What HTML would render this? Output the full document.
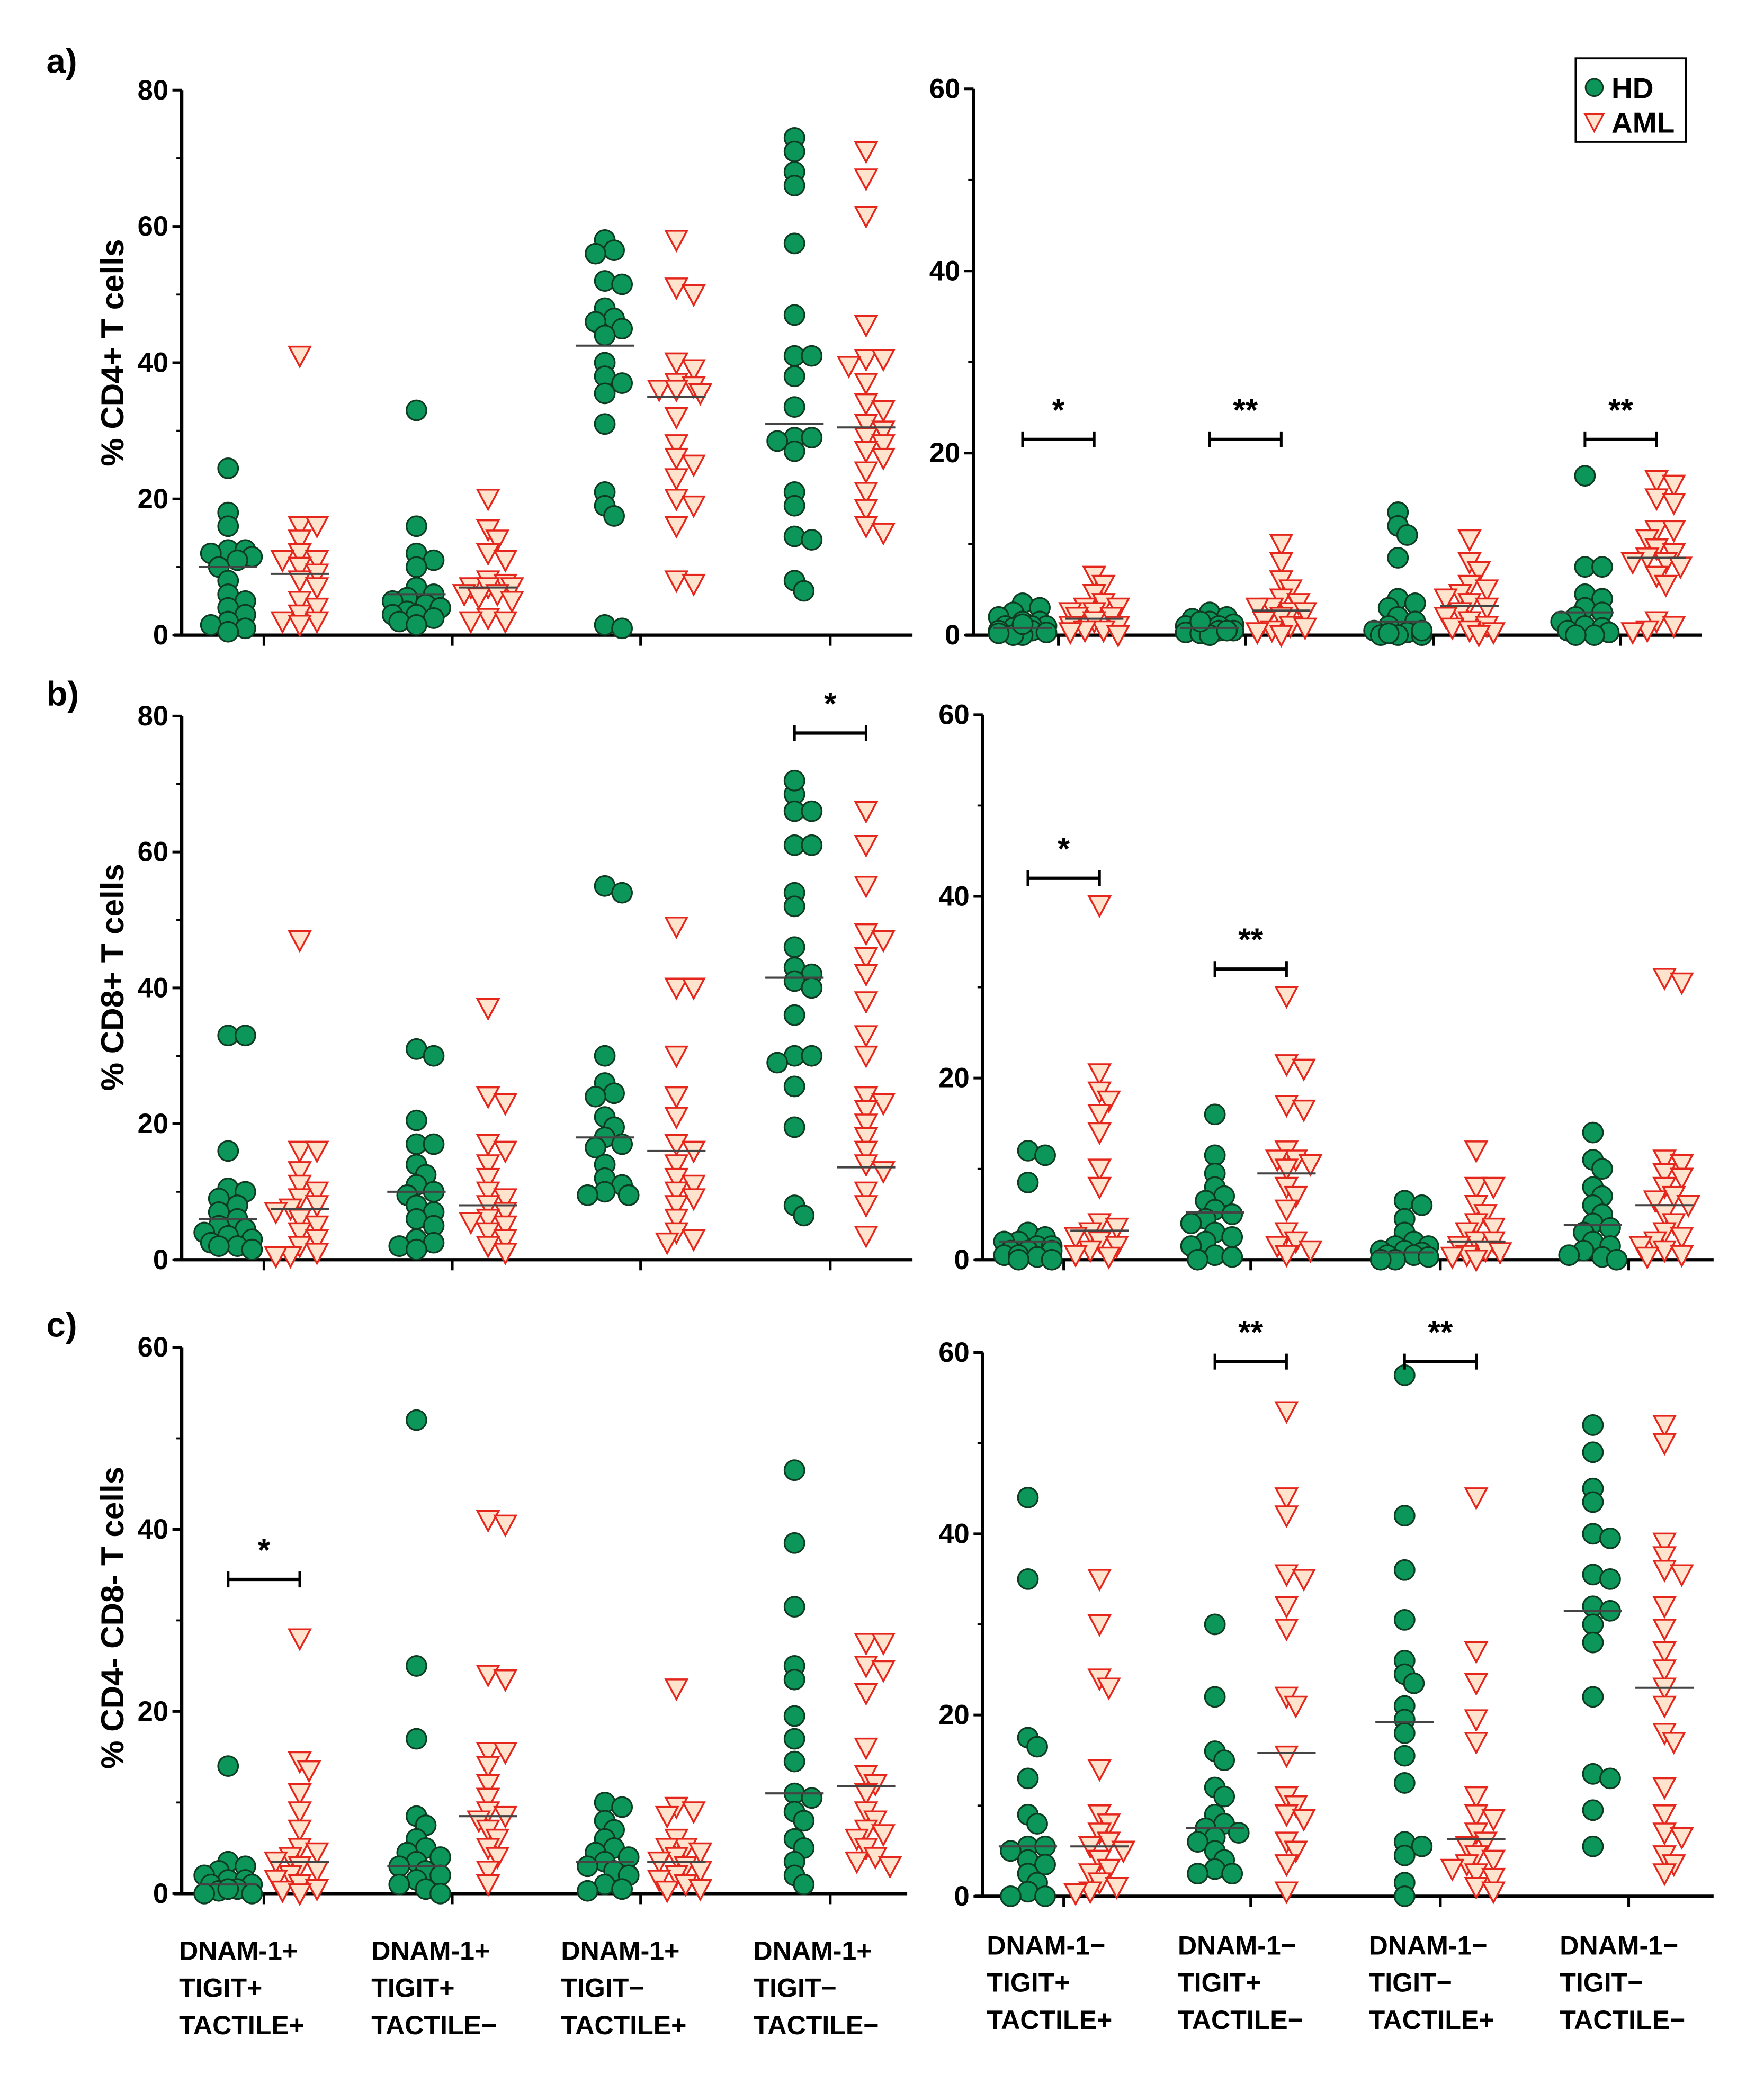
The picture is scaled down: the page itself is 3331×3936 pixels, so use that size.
<!DOCTYPE html>
<html><head><meta charset="utf-8">
<style>
html,body{margin:0;padding:0;background:#fff;}
svg{display:block;}
text{font-family:"Liberation Sans",sans-serif;font-weight:bold;}
</style></head>
<body>
<svg id="fig" xmlns="http://www.w3.org/2000/svg" width="3331" height="3936" viewBox="0 0 1330 1571.6" preserveAspectRatio="none">
<g id="root"></g>
</svg>
<script>
// ---------- DATA ----------
const groupLabels = ["DNAM-1+|TIGIT+|TACTILE+","DNAM-1+|TIGIT+|TACTILE\u2212","DNAM-1+|TIGIT\u2212|TACTILE+","DNAM-1+|TIGIT\u2212|TACTILE\u2212",
 "DNAM-1\u2212|TIGIT+|TACTILE+","DNAM-1\u2212|TIGIT+|TACTILE\u2212","DNAM-1\u2212|TIGIT\u2212|TACTILE+","DNAM-1\u2212|TIGIT\u2212|TACTILE\u2212"];
const yTicksLeftA = [0,20,40,60,80];
const yTicks60 = [0,20,40,60];

const aL_HD = [[24.5,18,16,12.5,12.5,12,11.5,11,10,8,6,5,4,3,2,1.5,1,0.5],[33,16,12,11,10,7,6,5.5,5,4.5,4,3.5,3,3,2.5,2,1.5],[58,56.5,56,52,51.5,48,46.5,46,45,44,40,38,37,35.5,31,21,19,17.5,1.5,1],[73,71,68,66,57.5,47,41,41,38,33.5,29,29,28.5,27,21,19,14.5,14,8,6.5]];
const aL_AML = [[41,16,16,14,12,11,11,10,9,8,7,5,4,3,2,2,1.5],[20,15.5,14,12,11,8,7.5,7,7,7,6,6,5.5,5,2.5,2,2],[58,51,50,40,39,37,36.5,36,36,35.5,32,28,26,25,23,20,19,16,8,7.5],[71,67,61.5,45.5,40.5,40.5,39.5,37,34,33,31,30,29,28,27,26,24,21,18.5,16,15]];
const aL_HDmed = [10,6,42.5,31];
const aL_AMLmed = [9,7,35,30.5];

const aR_HD = [[3.5,3,2.5,2,1.5,1.5,1,1,1,0.8,0.5,0.5,0.3,0,0,0.2,1.2],[2.5,2,1.8,1.5,1.2,1,1,0.8,0.5,0.5,0.3,0.2,0,0.5,1.5],[13.5,12,11,8.5,4,3.5,3,2,1.5,1,0.5,0.3,0,0,0,0.5,0.2],[17.5,7.5,7.5,4.5,4,3,2.5,2,1.5,1,0.8,0.5,0.3,0,0]];
const aR_AML = [[6.5,5.5,4.5,3.5,3,3,2.5,2.5,2,2,1.5,1,1,0.5,0.5,0,0.3],[10,8,6,5,4,3.5,3,3,2.5,2.5,2,1.5,1,0.8,0.5,0.3,0],[10.5,8,7,5.5,5,4.5,4,3.5,3,2.5,2,1.5,1,0.8,0.5,0.3,0],[17,16.5,15,14.5,11.5,11.5,10.5,9.5,9,8.5,8,8,7.5,6.5,5.5,1.5,1,0.5,0.3]];
const aR_HDmed = [0.8,0.8,1.5,2.5];
const aR_AMLmed = [1.8,2.7,3.2,8.5];

const bL_HD = [[33,33,16,10.5,10,9,8,7,6,5,4.5,4,3.5,3,2.5,2,2,1.5],[31,30,20.5,17,17,14,12.5,11,10,9.5,8,7,6,5,3,2.5,2,1.5],[55,54,30,26,24.5,24,21,19.5,18,17,16.5,14,12,11,10,9.5,9.5],[68.5,70.5,66,66,61,61,54,52,46,43,42,41,40,36,30,30,29,25.5,19.5,8,6.5]];
const bL_AML = [[47,16,16,13,11,10,9,8,7.5,7,6,5,4,3,2,1,0.5,0.5],[37,24,23,17,16,14,12,10,9,8,7,6,5.5,5,4,3,2,1],[49,40,40,30,24,21,17,16,14,12,11,10,9,8,6,4,3,2.5],[66,61,55,48,47,44.5,42,38,33,30,24,23,22,20,18,16,14,13,10,8,3.5]];
const bL_HDmed = [6,10,18,41.5];
const bL_AMLmed = [7.5,8,16,13.6];

const bR_HD = [[12,11.5,8.5,3,2.5,2,2,1.5,1.5,1,1,1,0.5,0.5,0.3,0,0],[16,11.5,9.5,8,7,6.5,5.5,5,4.5,4,3,2.5,2,1.5,0.5,0.3,0],[6.5,6,4.5,3,2,1.5,1.5,1,1,0.8,0.5,0.5,0.3,0,0],[14,11,10,8,7,6,5,4,3.5,3,2,1.5,1,0.5,0.3,0]];
const bR_AML = [[39,20.5,18.5,17.5,16,14,10,8,4,3.5,3,2.5,2,1.5,1,0.5,0.3],[29,21.5,21,17,16.5,12,11,11,10.5,10,8,7,5.5,3,2,1.5,1,0.5],[12,8,8,6,5,4,3.5,3,2,2,1.5,1,0.8,0.5,0.3,0],[31,30.5,11,10.5,9.5,9,8,7,6.5,6,5,4,3,2.5,2,1.5,1,0.5,0.3]];
const bR_HDmed = [2,5.2,0.8,3.8];
const bR_AMLmed = [3.2,9.5,2,6];

const cL_HD = [[14,3.5,3,2.5,2,1.5,1.5,1,1,0.5,0.3,0,0,0.5],[52,25,17,8.5,7.5,6,5,4.5,4,3.5,3,2.5,2,1.5,1,0.5,0],[10,9.5,8,7,6,5,4.5,4,3.5,3,2.5,2,1,0.5,0.3],[46.5,38.5,31.5,25,23.5,19.5,17,14.5,11,10.5,9,8,6,5,3.5,2,1]];
const cL_AML = [[28,14.5,13.5,11,9,7,5,4.5,4,3.5,3,2.5,2,1.5,1,0.5,0.3,0],[41,40.5,24,23.5,15.5,15.5,14,12,10.5,9,8.5,8,7,6,5,4,2.5,1],[22.5,9.5,9,8.5,6,5,5,4.5,4,3.5,3,2.5,2,1.5,1,0.5,0.3],[27.5,27.5,25,24.5,22,16,13,12,11,9,8,7,6.5,6,5,4,3.5,3]];
const cL_HDmed = [1,3,3.5,11];
const cL_AMLmed = [3.5,8.5,3.5,11.8];

const cR_HD = [[44,35,17.5,16.5,13,9,8,5.5,5.5,5,4,3.5,2.5,1.5,0.5,0,0],[30,22,16,15,12,11,9,8,7.5,7,6.5,6,5,4,3,2.5,2.5],[57.5,42,36,30.5,26,24.5,23.5,21,19.5,18,15.5,12.5,6,5.5,4.5,1.5,0],[52,49,45,43.5,40,39.5,35.5,35,32,31.5,30,28,22,13.5,13,9.5,5.5]];
const cR_AML = [[35,30,24,23,14,9,8,7,6,5.5,5,4,3,2.5,1.5,1,0.5,0.3],[53.5,44,42,35.5,35,32,29.5,22,21,15.5,11,10,9,8.5,6,5,3.5,0.5],[44,27,23.5,19.5,17,11,9,8.5,7,6,5.5,4.5,4,3.5,3,2.5,2,1,0.5],[52,50,39,37.5,36,35.5,32,29.5,27,25,23,21,18,17,12,9,7,6.5,4.5,3.5,2.5]];
const cR_HDmed = [5.5,7.5,19.2,31.5];
const cR_AMLmed = [5.5,15.8,6.3,23];

// significance: [groupIndex, value, label]
const aR_sig = [[0,21.5,"*"],[1,21.5,"**"],[3,21.5,"**"]];
const bL_sig = [[3,77.5,"*"]];
const bR_sig = [[0,42,"*"],[1,32,"**"]];
const cL_sig = [[0,34.5,"*"]];
const cR_sig = [[1,59,"**"],[2,59,"**"]];

// ---------- LAYOUT ----------
const NS="http://www.w3.org/2000/svg";
const root=document.getElementById('root');
function mk(tag,attrs,parent){const e=document.createElementNS(NS,tag);for(const k in attrs)e.setAttribute(k,attrs[k]);(parent||root).appendChild(e);return e;}

const panels=[
 {id:'a-left',x0:137,x1:688,y0:479,y1:68,max:80,ticks:yTicksLeftA,centers:[199,341,483,626],hd:aL_HD,aml:aL_AML,hm:aL_HDmed,am:aL_AMLmed,sig:[]},
 {id:'a-right',x0:734,x1:1283,y0:479,y1:67,max:60,ticks:yTicks60,centers:[798,939,1081,1222],hd:aR_HD,aml:aR_AML,hm:aR_HDmed,am:aR_AMLmed,sig:aR_sig},
 {id:'b-left',x0:137,x1:688,y0:950,y1:540,max:80,ticks:yTicksLeftA,centers:[199,341,483,626],hd:bL_HD,aml:bL_AML,hm:bL_HDmed,am:bL_AMLmed,sig:bL_sig},
 {id:'b-right',x0:741,x1:1292,y0:950,y1:539,max:60,ticks:yTicks60,centers:[802,943,1086,1228],hd:bR_HD,aml:bR_AML,hm:bR_HDmed,am:bR_AMLmed,sig:bR_sig},
 {id:'c-left',x0:137,x1:684,y0:1428,y1:1016,max:60,ticks:yTicks60,centers:[199,341,483,626],hd:cL_HD,aml:cL_AML,hm:cL_HDmed,am:cL_AMLmed,sig:cL_sig},
 {id:'c-right',x0:741,x1:1292,y0:1430,y1:1020,max:60,ticks:yTicks60,centers:[802,943,1086,1228],hd:cR_HD,aml:cR_AML,hm:cR_HDmed,am:cR_AMLmed,sig:cR_sig}
];

function swarm(vals,yf,cx,g,kind){
  const placed=[];
  const offs=[0,7,-7,13,-13,18,-18];
  vals.forEach((v,i)=>{
    const y=yf(v);
    let best=cx,bestScore=1e9;
    for(const o of offs){
      let score=0;
      placed.forEach(p=>{const d=Math.hypot(p[0]-(cx+o),p[1]-y);if(d<10)score+=10-d;});
      score+=Math.abs(o)*0.05;
      if(score<bestScore){bestScore=score;best=cx+o;}
    }
    const x=best;
    placed.push([x,y]);
    let el;
    if(kind==='hd'){
      el=mk('circle',{cx:x,cy:y,r:7.5,fill:'#0c9659',stroke:'#0f3b22','stroke-width':1.3},g);
    }else{
      el=mk('polygon',{points:`${x-8},${y-7} ${x+8},${y-7} ${x},${y+8}`,fill:'#ffe3cc',stroke:'#e5261c','stroke-width':1.4},g);
    }
    
    
  });
}

panels.forEach(p=>{
  const g=mk('g',{});
  
  
  const yf=v=>p.y0-(v/p.max)*(p.y0-p.y1);
  const ya=mk('line',{x1:p.x0,y1:p.y0,x2:p.x0,y2:p.y1,stroke:'#000','stroke-width':2.5},g);
  
  
  const xa=mk('line',{x1:p.x0-6,y1:p.y0,x2:p.x1,y2:p.y0,stroke:'#000','stroke-width':2.5},g);
  
  
  const step=p.ticks[1]-p.ticks[0];
  p.ticks.forEach((t,i)=>{
    const y=yf(t);
    mk('line',{x1:p.x0-7,y1:y,x2:p.x0,y2:y,stroke:'#000','stroke-width':2},g);
    const tx=mk('text',{x:p.x0-10,y:y+7,'text-anchor':'end','font-size':21},g);
    tx.textContent=t;
    
    
    if(i<p.ticks.length-1){const ym=yf(t+step/2);mk('line',{x1:p.x0-4,y1:ym,x2:p.x0,y2:ym,stroke:'#000','stroke-width':1.5},g);}
  });
  p.centers.forEach(c=>mk('line',{x1:c,y1:p.y0,x2:c,y2:p.y0+8,stroke:'#000','stroke-width':2},g));
  p.centers.forEach((c,gi)=>{
    swarm(p.hd[gi],yf,c-27,g,'hd');
    swarm(p.aml[gi],yf,c+27,g,'aml');
    const m1=mk('line',{x1:c-49,x2:c-5,y1:yf(p.hm[gi]),y2:yf(p.hm[gi]),stroke:'#444','stroke-width':1.6},g);
    
    
    const m2=mk('line',{x1:c+5,x2:c+49,y1:yf(p.am[gi]),y2:yf(p.am[gi]),stroke:'#444','stroke-width':1.6},g);
    
    
  });
  p.sig.forEach(s=>{
    const c=p.centers[s[0]],y=yf(s[1]);
    const sg=mk('g',{},g);
    
    
    mk('line',{x1:c-27,x2:c+27,y1:y,y2:y,stroke:'#000','stroke-width':2.5},sg);
    mk('line',{x1:c-27,x2:c-27,y1:y-6,y2:y+6,stroke:'#000','stroke-width':2},sg);
    mk('line',{x1:c+27,x2:c+27,y1:y-6,y2:y+6,stroke:'#000','stroke-width':2},sg);
    const t=mk('text',{x:c,y:y-14,'text-anchor':'middle','font-size':24},sg);
    t.textContent=s[2];
  });
});

[["a)",35,55],["b)",35,532],["c)",35,1008]].forEach(l=>{
  const t=mk('text',{x:l[1],y:l[2],'font-size':26});t.textContent=l[0];
  
  
});
[["% CD4+ T cells",266],["% CD8+ T cells",737],["% CD4- CD8- T cells",1220]].forEach(l=>{
  const t=mk('text',{x:0,y:0,'font-size':24,'text-anchor':'middle',transform:`translate(93,${l[1]}) rotate(-90)`});t.textContent=l[0];
  
  
});
const catX=[135,280,423,568,744,888,1032,1176];
groupLabels.forEach((lab,i)=>{
  const y0=i<4?1478:1474;
  lab.split('|').forEach((s,j)=>{
    const t=mk('text',{x:catX[i],y:y0+j*28,'font-size':20});t.textContent=s;
    
    
  });
});
const lg=mk('g',{});


mk('rect',{x:1188,y:44,width:83,height:63,fill:'#fff',stroke:'#000','stroke-width':1.5},lg);
mk('circle',{cx:1202,cy:66,r:6.5,fill:'#0c9659',stroke:'#0f3b22','stroke-width':1.2},lg);
mk('polygon',{points:'1195,86 1209,86 1202,99',fill:'#ffe3cc',stroke:'#e5261c','stroke-width':1.3},lg);
const l1=mk('text',{x:1215,y:74,'font-size':22},lg);l1.textContent='HD';
const l2=mk('text',{x:1215,y:100,'font-size':22},lg);l2.textContent='AML';
</script>
</body></html>
